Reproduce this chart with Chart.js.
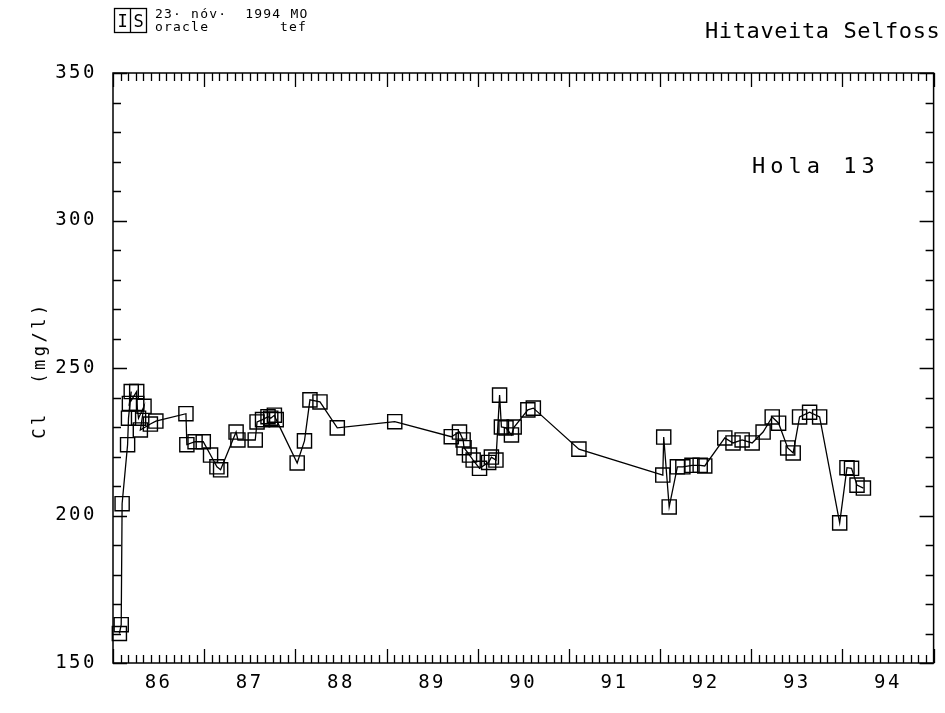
<!DOCTYPE html>
<html>
<head>
<meta charset="utf-8">
<script src="https://cdn.jsdelivr.net/npm/chart.js@4.4.1/dist/chart.umd.min.js"></script>
<style>
  html, body { margin: 0; padding: 0; background: #fff; }
</style>
</head>
<body>
<canvas id="chart" width="945" height="713"></canvas>
<script>

// sample dates (decimal years) and chloride values
const sampleYears = [
    1986.07, 1986.09, 1986.10, 1986.16, 1986.17, 1986.20, 1986.18, 1986.26, 1986.26, 1986.28, 1986.34, 1986.30, 1986.41, 1986.47,
    1986.80, 1986.81, 1986.90, 1986.99, 1987.07, 1987.14, 1987.18, 1987.35, 1987.37,
    1987.56, 1987.58, 1987.64, 1987.70, 1987.73, 1987.77, 1987.79,
    1988.02, 1988.10, 1988.16, 1988.27, 1988.46,
    1989.09,
    1989.71, 1989.80, 1989.84, 1989.85, 1989.91, 1989.95, 1990.02, 1990.12, 1990.15, 1990.20, 1990.24, 1990.26, 1990.31, 1990.37, 1990.40, 1990.55, 1990.61,
    1991.11,
    1992.03, 1992.04, 1992.10, 1992.19, 1992.25, 1992.35, 1992.44, 1992.49,
    1992.71, 1992.80, 1992.90, 1993.01, 1993.13, 1993.23, 1993.30, 1993.40, 1993.46, 1993.53, 1993.64, 1993.75,
    1993.97, 1994.05, 1994.10, 1994.16, 1994.23
];

const chlorideValues = [
    160, 163, 204, 224, 233, 242, 238, 242, 238, 233, 237, 229, 231, 232,
    234.5, 224, 225, 225, 220.5, 216.5, 215.5, 228.3, 225.6,
    225.6, 231.7, 232.5, 233.5, 233, 234, 232.5,
    217.8, 225.3, 239.2, 238.5, 229.7,
    231.8,
    226.7, 228.3, 225.6, 223, 220.5, 218.8, 216, 218, 219.8, 218.8, 240.8, 230, 229.7, 227.3, 230, 235.8, 236.4,
    222.5,
    213.7, 226.6, 202.9, 216.5, 216.5, 217, 217, 216.8,
    226.3, 224.6, 225.6, 224.6, 228.3, 233.4, 231.3, 222.9, 221.2, 233.4, 235, 233.4,
    197.5, 216.2, 216, 210.3, 209.3
];

const yearLabels = ['86', '87', '88', '89', '90', '91', '92', '93', '94'];
const yTickValues = [150, 200, 250, 300, 350];

const X_MIN = 1986, X_MAX = 1995;
const Y_MIN = 150, Y_MAX = 350;
const MONO = "'DejaVu Sans Mono', monospace";


// box + inward tick marks on all four sides
const framePlugin = {
    id: 'frame',
    beforeDraw(chart) {
        chart.ctx.letterSpacing = '2.5px';
    },
    beforeDatasetsDraw(chart) {
        const ctx = chart.ctx;
        const a = chart.chartArea;
        const xs = chart.scales.x, ys = chart.scales.y;
        ctx.save();
        ctx.strokeStyle = '#000';
        ctx.lineWidth = 1.5;
        ctx.strokeRect(a.left, a.top, a.right - a.left, a.bottom - a.top);
        ctx.beginPath();
        ctx.lineWidth = 1.3;
        for (let m = 0; m <= (X_MAX - X_MIN) * 12; m++) {
            let px = Math.round(xs.getPixelForValue(X_MIN + m / 12)) + 0.5;
            let len = (m % 12 === 0) ? 14 : 8;
            ctx.moveTo(px, a.bottom);
            ctx.lineTo(px, a.bottom - len);
            ctx.moveTo(px, a.top);
            ctx.lineTo(px, a.top + len);
        }
        for (let v = Y_MIN; v <= Y_MAX; v += 10) {
            let py = Math.round(ys.getPixelForValue(v)) + 0.5;
            let len = (v % 50 === 0) ? 14 : 8;
            ctx.moveTo(a.left, py);
            ctx.lineTo(a.left + len, py);
            ctx.moveTo(a.right, py);
            ctx.lineTo(a.right - len, py);
        }
        ctx.stroke();
        ctx.restore();
    },
    afterDraw(chart) {
        const ctx = chart.ctx;
        ctx.save();
        ctx.fillStyle = '#000';
        ctx.textBaseline = 'alphabetic';

        // title
        ctx.letterSpacing = '0.6px';
        ctx.font = '22px ' + MONO;
        ctx.fillText('Hitaveita Selfoss', 705, 38);

        // well name
        ctx.letterSpacing = '5px';
        ctx.font = '22px ' + MONO;
        ctx.fillText('Hola 13', 752, 173);

        // header stamp
        ctx.letterSpacing = '1.2px';
        ctx.font = '13px ' + MONO;
        ctx.fillText('23\u00b7 n\u00f3v\u00b7  1994 MO', 155, 18);
        ctx.fillText('oracle', 155, 31);
        ctx.fillText('tef', 280, 31);
        ctx.lineWidth = 1.3;
        ctx.strokeStyle = '#000';
        ctx.strokeRect(114.5, 8.5, 32, 24);
        ctx.beginPath();
        ctx.moveTo(130.5, 8.5);
        ctx.lineTo(130.5, 32.5);
        ctx.stroke();
        ctx.letterSpacing = '0px';
        ctx.font = '17px ' + MONO;
        ctx.textAlign = 'center';
        ctx.fillText('I', 122.5, 27);
        ctx.fillText('S', 138.5, 27);

        // y axis title
        ctx.translate(41, 370);
        ctx.rotate(-Math.PI / 2);
        ctx.letterSpacing = '3.5px';
        ctx.font = '17px ' + MONO;
        ctx.textAlign = 'center';
        ctx.textBaseline = 'middle';
        ctx.fillText('Cl  (mg/l)', 0, 0);
        ctx.restore();
    }
};


const points = sampleYears.map((yr, i) => ({ x: yr, y: chlorideValues[i] }));

const myChart = new Chart(document.getElementById('chart'), {
    type: 'line',
    data: {
        datasets: [
            {
                label: 'Cl',
                data: points,
                borderColor: '#000',
                borderWidth: 1.3,
                tension: 0,
                fill: false,
                pointStyle: 'rect',
                pointRadius: 10,
                pointBorderWidth: 1.4,
                pointBorderColor: '#000',
                pointBackgroundColor: 'rgba(0,0,0,0)',
                clip: false
            }
        ]
    },
    options: {
        responsive: false,
        animation: false,
        devicePixelRatio: 1,
        layout: { padding: { top: 73, right: 6, left: 0, bottom: 0 } },
        plugins: {
            legend: { display: false },
            tooltip: { enabled: false }
        },
        scales: {
            x: {
                type: 'linear',
                min: X_MIN,
                max: X_MAX,
                grid: { display: false, drawTicks: false },
                border: { display: false },
                afterBuildTicks: (s) => {
                    s.ticks = yearLabels.map((l, i) => ({ value: X_MIN + 0.5 + i }));
                },
                ticks: {
                    callback: (v, i) => yearLabels[i],
                    font: { family: MONO, size: 19 },
                    color: '#000',
                    padding: 9,
                    autoSkip: false,
                    maxRotation: 0
                },
                afterFit: (s) => { s.height = 50; }
            },
            y: {
                min: Y_MIN,
                max: Y_MAX,
                grid: { display: false, drawTicks: false },
                border: { display: false },
                afterBuildTicks: (s) => {
                    s.ticks = yTickValues.map(v => ({ value: v }));
                },
                ticks: {
                    font: { family: MONO, size: 19 },
                    color: '#000',
                    padding: 16
                },
                afterFit: (s) => { s.width = 113; }
            }
        }
    },
    plugins: [framePlugin]
});
</script>
</body>
</html>
